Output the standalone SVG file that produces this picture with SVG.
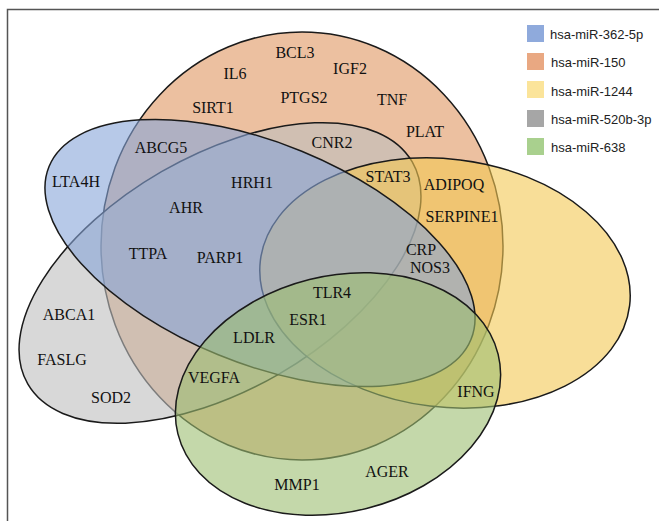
<svg xmlns="http://www.w3.org/2000/svg" width="659" height="521" viewBox="0 0 659 521">
<style>
.set{stroke:#1a1a1a;stroke-width:1.5;fill-opacity:0.6}
.g{font-family:"Liberation Serif","Times New Roman",serif;font-size:16px;fill:#111;text-anchor:middle}
.lg{font-family:"Liberation Sans",Arial,sans-serif;font-size:13px;fill:#222}
</style>
<rect width="659" height="521" fill="#fff"/>
<path d="M7.5,521 V9.5 H659" fill="none" stroke="#555" stroke-width="1.5"/>
<g id="set-miR-150"><ellipse class="set" cx="302" cy="246" rx="201" ry="214" fill="#DF9661"/></g>
<g id="set-miR-520b-3p"><ellipse class="set" cx="220" cy="273" rx="222" ry="117" transform="rotate(-30 220 273)" fill="#BEBEBE"/></g>
<g id="set-miR-1244"><ellipse class="set" cx="445" cy="283" rx="186" ry="124" transform="rotate(7 445 283)" fill="#F3C853"/></g>
<g id="set-miR-362-5p"><ellipse class="set" cx="260" cy="253" rx="228" ry="110" transform="rotate(22.3 260 253)" fill="#87A5D9"/></g>
<g id="set-miR-638"><ellipse class="set" cx="338" cy="394" rx="165" ry="118" transform="rotate(-14 338 394)" fill="#9DBE71"/></g>
<g id="labels">
<text class="g" x="295" y="58">BCL3</text>
<text class="g" x="235" y="79">IL6</text>
<text class="g" x="350" y="74">IGF2</text>
<text class="g" x="213" y="113">SIRT1</text>
<text class="g" x="304" y="103">PTGS2</text>
<text class="g" x="392" y="105">TNF</text>
<text class="g" x="425" y="137">PLAT</text>
<text class="g" x="161" y="153">ABCG5</text>
<text class="g" x="332" y="148">CNR2</text>
<text class="g" x="76" y="187">LTA4H</text>
<text class="g" x="252" y="188">HRH1</text>
<text class="g" x="388" y="182">STAT3</text>
<text class="g" x="454" y="190">ADIPOQ</text>
<text class="g" x="186" y="213">AHR</text>
<text class="g" x="462" y="222">SERPINE1</text>
<text class="g" x="148" y="259">TTPA</text>
<text class="g" x="220" y="263">PARP1</text>
<text class="g" x="421" y="255">CRP</text>
<text class="g" x="430" y="273">NOS3</text>
<text class="g" x="332" y="298">TLR4</text>
<text class="g" x="308" y="325">ESR1</text>
<text class="g" x="69" y="320">ABCA1</text>
<text class="g" x="254" y="343">LDLR</text>
<text class="g" x="62" y="365">FASLG</text>
<text class="g" x="214" y="383">VEGFA</text>
<text class="g" x="111" y="403">SOD2</text>
<text class="g" x="476" y="397">IFNG</text>
<text class="g" x="387" y="477">AGER</text>
<text class="g" x="297" y="490">MMP1</text>
</g>
<g id="legend">
<rect x="527" y="25" width="17" height="17" fill="#8FAADC"/>
<text class="lg" x="550" y="39">hsa-miR-362-5p</text>
<rect x="527" y="53" width="17" height="17" fill="#E9A882"/>
<text class="lg" x="551" y="67">hsa-miR-150</text>
<rect x="527" y="81" width="17" height="17" fill="#FBE49A"/>
<text class="lg" x="551" y="96">hsa-miR-1244</text>
<rect x="527" y="110" width="17" height="17" fill="#A6A6A6"/>
<text class="lg" x="551" y="124">hsa-miR-520b-3p</text>
<rect x="527" y="138" width="17" height="17" fill="#A9D08E"/>
<text class="lg" x="551" y="152">hsa-miR-638</text>
</g>
</svg>
